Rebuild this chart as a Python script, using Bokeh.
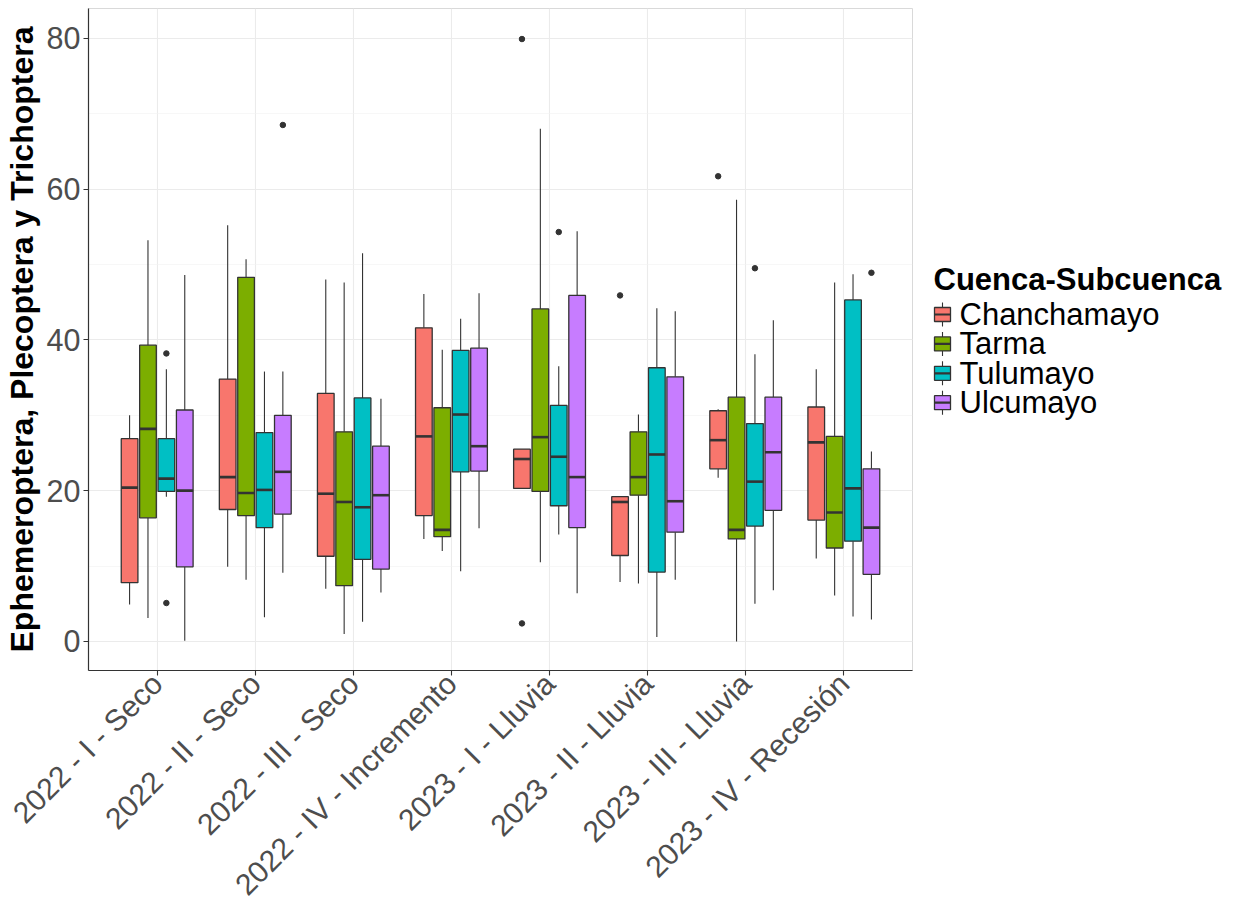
import math
from bokeh.plotting import figure
from bokeh.layouts import row
from bokeh.models import (FactorRange, Range1d, SingleIntervalTicker,
                          ColumnDataSource)
from bokeh.core.properties import value
from bokeh.transform import dodge
from bokeh.embed import file_html
from bokeh.resources import INLINE

periods = ["2022 - I - Seco", "2022 - II - Seco", "2022 - III - Seco",
           "2022 - IV - Incremento", "2023 - I - Lluvia", "2023 - II - Lluvia",
           "2023 - III - Lluvia", "2023 - IV - Recesión"]
series = ["Chanchamayo", "Tarma", "Tulumayo", "Ulcumayo"]
colors = ["#F8766D", "#7CAE00", "#00BFC4", "#C77CFF"]
legend_title = "Cuenca-Subcuenca"
y_title = "Ephemeroptera, Plecoptera y Trichoptera"

whisker_low = {
    "Chanchamayo": [4.9, 9.9, 7.0, 13.6, 20.3, 7.9, 21.7, 11.0],
    "Tarma":       [3.1, 8.2, 1.0, 12.0, 10.5, 7.7, 0.0, 6.1],
    "Tulumayo":    [19.2, 3.2, 2.6, 9.3, 14.2, 0.6, 5.0, 3.3],
    "Ulcumayo":    [0.1, 9.1, 6.5, 15.0, 6.4, 8.2, 6.8, 2.9],
}
q1 = {
    "Chanchamayo": [7.8, 17.5, 11.3, 16.7, 20.3, 11.4, 22.9, 16.1],
    "Tarma":       [16.4, 16.7, 7.4, 13.9, 19.9, 19.4, 13.6, 12.4],
    "Tulumayo":    [19.9, 15.1, 10.9, 22.5, 18.0, 9.2, 15.3, 13.3],
    "Ulcumayo":    [9.9, 16.9, 9.6, 22.6, 15.1, 14.5, 17.4, 8.9],
}
median = {
    "Chanchamayo": [20.4, 21.8, 19.6, 27.2, 24.2, 18.5, 26.7, 26.4],
    "Tarma":       [28.2, 19.7, 18.5, 14.8, 27.1, 21.8, 14.8, 17.1],
    "Tulumayo":    [21.6, 20.1, 17.8, 30.1, 24.5, 24.8, 21.2, 20.3],
    "Ulcumayo":    [20.0, 22.5, 19.4, 25.9, 21.8, 18.6, 25.1, 15.1],
}
q3 = {
    "Chanchamayo": [26.9, 34.8, 32.9, 41.6, 25.5, 19.2, 30.6, 31.1],
    "Tarma":       [39.3, 48.3, 27.8, 31.0, 44.1, 27.8, 32.4, 27.2],
    "Tulumayo":    [26.9, 27.7, 32.3, 38.6, 31.3, 36.3, 28.9, 45.3],
    "Ulcumayo":    [30.7, 30.0, 25.9, 38.9, 45.9, 35.1, 32.4, 22.9],
}
whisker_high = {
    "Chanchamayo": [30.0, 55.2, 48.0, 46.1, 25.5, 19.2, 30.8, 36.1],
    "Tarma":       [53.2, 50.7, 47.6, 38.7, 68.0, 30.1, 58.6, 47.6],
    "Tulumayo":    [36.1, 35.8, 51.5, 42.8, 36.5, 44.2, 38.1, 48.7],
    "Ulcumayo":    [48.6, 35.8, 32.2, 46.2, 54.4, 43.8, 42.6, 25.2],
}
outlier_period = ["2022 - I - Seco", "2022 - I - Seco", "2022 - II - Seco",
                  "2023 - I - Lluvia", "2023 - I - Lluvia", "2023 - I - Lluvia",
                  "2023 - II - Lluvia", "2023 - III - Lluvia", "2023 - III - Lluvia",
                  "2023 - IV - Recesión"]
outlier_series = ["Tulumayo", "Tulumayo", "Ulcumayo",
                  "Chanchamayo", "Chanchamayo", "Tulumayo",
                  "Chanchamayo", "Chanchamayo", "Tulumayo",
                  "Ulcumayo"]
outlier_value = [38.2, 5.1, 68.5, 79.9, 2.4, 54.3, 45.9, 61.7, 49.5, 48.9]

FONT = "Liberation Sans"
DARK = "#333333"
TOP, BOTTOM = 8, 247        # borders above / below the plotting frame
H = 917

p = figure(width=913, height=H,
           x_range=FactorRange(*periods, range_padding=0.2,
                               range_padding_units="absolute"),
           y_range=Range1d(-3.85, 83.95),
           output_backend="svg", toolbar_location=None,
           min_border_left=88, min_border_right=1,
           min_border_top=TOP, min_border_bottom=BOTTOM)

p.background_fill_color = "white"
p.border_fill_color = "white"
p.outline_line_color = "#D9D9D9"
p.outline_line_width = 1

dodge_step = 0.1875
box_w = 0.17
for i, s in enumerate(series):
    off = (i - 1.5) * dodge_step
    src = ColumnDataSource(dict(period=periods, lo=whisker_low[s], q1=q1[s],
                                med=median[s], q3=q3[s], hi=whisker_high[s]))
    xc = dodge("period", off, range=p.x_range)
    p.segment(x0=xc, x1=xc, y0="q3", y1="hi", source=src,
              line_color=DARK, line_width=1.1)
    p.segment(x0=xc, x1=xc, y0="lo", y1="q1", source=src,
              line_color=DARK, line_width=1.1)
    p.vbar(x=xc, width=box_w, top="q3", bottom="q1", source=src,
           fill_color=colors[i], line_color=DARK, line_width=1.3)
    p.segment(x0=dodge("period", off - box_w / 2, range=p.x_range),
              x1=dodge("period", off + box_w / 2, range=p.x_range),
              y0="med", y1="med", source=src,
              line_color=DARK, line_width=2.6)

    ov = [v for ps, ss, v in zip(outlier_period, outlier_series, outlier_value) if ss == s]
    op = [ps for ps, ss, v in zip(outlier_period, outlier_series, outlier_value) if ss == s]
    if ov:
        osrc = ColumnDataSource(dict(period=op, val=ov))
        p.scatter(x=dodge("period", off, range=p.x_range), y="val", source=osrc,
                  size=5.5, fill_color=DARK, line_color=DARK)

# axes
p.yaxis.ticker = SingleIntervalTicker(interval=20, num_minor_ticks=2)
p.yaxis.axis_label = y_title
p.yaxis.axis_label_text_font = FONT
p.yaxis.axis_label_text_font_style = "bold"
p.yaxis.axis_label_text_font_size = "32px"
p.yaxis.axis_label_text_color = "black"
p.yaxis.axis_label_standoff = 4
p.yaxis.minor_tick_line_color = None

for ax in (p.xaxis, p.yaxis):
    ax.major_label_text_font = FONT
    ax.major_label_text_color = "#4D4D4D"
    ax.axis_line_color = DARK
    ax.axis_line_width = 1.2
    ax.major_tick_line_color = DARK
    ax.major_tick_line_width = 1.1
    ax.major_tick_out = 5
    ax.major_tick_in = 0
    ax.major_label_standoff = 3
p.yaxis.major_label_text_font_size = "30.5px"
p.xaxis.major_label_text_font_size = "30px"
p.xaxis.major_label_orientation = math.pi / 4

p.xgrid.grid_line_color = "#EBEBEB"
p.xgrid.grid_line_width = 1.1
p.ygrid.grid_line_color = "#EBEBEB"
p.ygrid.grid_line_width = 1.1
p.ygrid.minor_grid_line_color = "#F2F2F2"
p.ygrid.minor_grid_line_width = 0.6

# ---- legend panel: a figure whose y coordinates are page pixels (downward) ----
lg = figure(width=330, height=H, output_backend="svg", toolbar_location=None,
            x_axis_type=None, y_axis_type=None,
            x_range=Range1d(0, 330), y_range=Range1d(H - BOTTOM, TOP),
            min_border_left=0, min_border_right=0,
            min_border_top=TOP, min_border_bottom=BOTTOM)
lg.outline_line_color = None
lg.background_fill_color = "white"
lg.border_fill_color = "white"
lg.grid.visible = False

LEG_X = 20
TITLE_Y = 279
ROW0 = 314
ROW_STEP = 29.4
KEY_W, KEY_H, WHISK = 16, 14, 5
row_y = [ROW0 + ROW_STEP * i for i in range(len(series))]
key_cx = LEG_X + 1 + KEY_W / 2

lg.text(x=[LEG_X], y=[TITLE_Y], text=[legend_title],
        text_font=value(FONT), text_font_style="bold",
        text_font_size="31px", text_color="black", text_baseline="middle")

ksrc = ColumnDataSource(dict(
    y=row_y, top=[y - KEY_H / 2 for y in row_y], bot=[y + KEY_H / 2 for y in row_y],
    wt=[y - KEY_H / 2 - WHISK for y in row_y], wb=[y + KEY_H / 2 + WHISK for y in row_y],
    color=colors, label=series))
lg.segment(x0=key_cx, x1=key_cx, y0="wt", y1="wb", source=ksrc,
           line_color=DARK, line_width=1.1)
lg.quad(left=key_cx - KEY_W / 2, right=key_cx + KEY_W / 2, top="top", bottom="bot",
        source=ksrc, fill_color="color", line_color=DARK, line_width=1.3)
lg.segment(x0=key_cx - KEY_W / 2, x1=key_cx + KEY_W / 2, y0="y", y1="y",
           source=ksrc, line_color=DARK, line_width=2.2)
lg.text(x=key_cx + KEY_W / 2 + 9, y="y", text="label", source=ksrc,
        text_font=value(FONT), text_font_size="31px", text_color="black",
        text_baseline="middle")

layout = row(p, lg, spacing=0)
open("out.html", "w").write(file_html(layout, INLINE))
